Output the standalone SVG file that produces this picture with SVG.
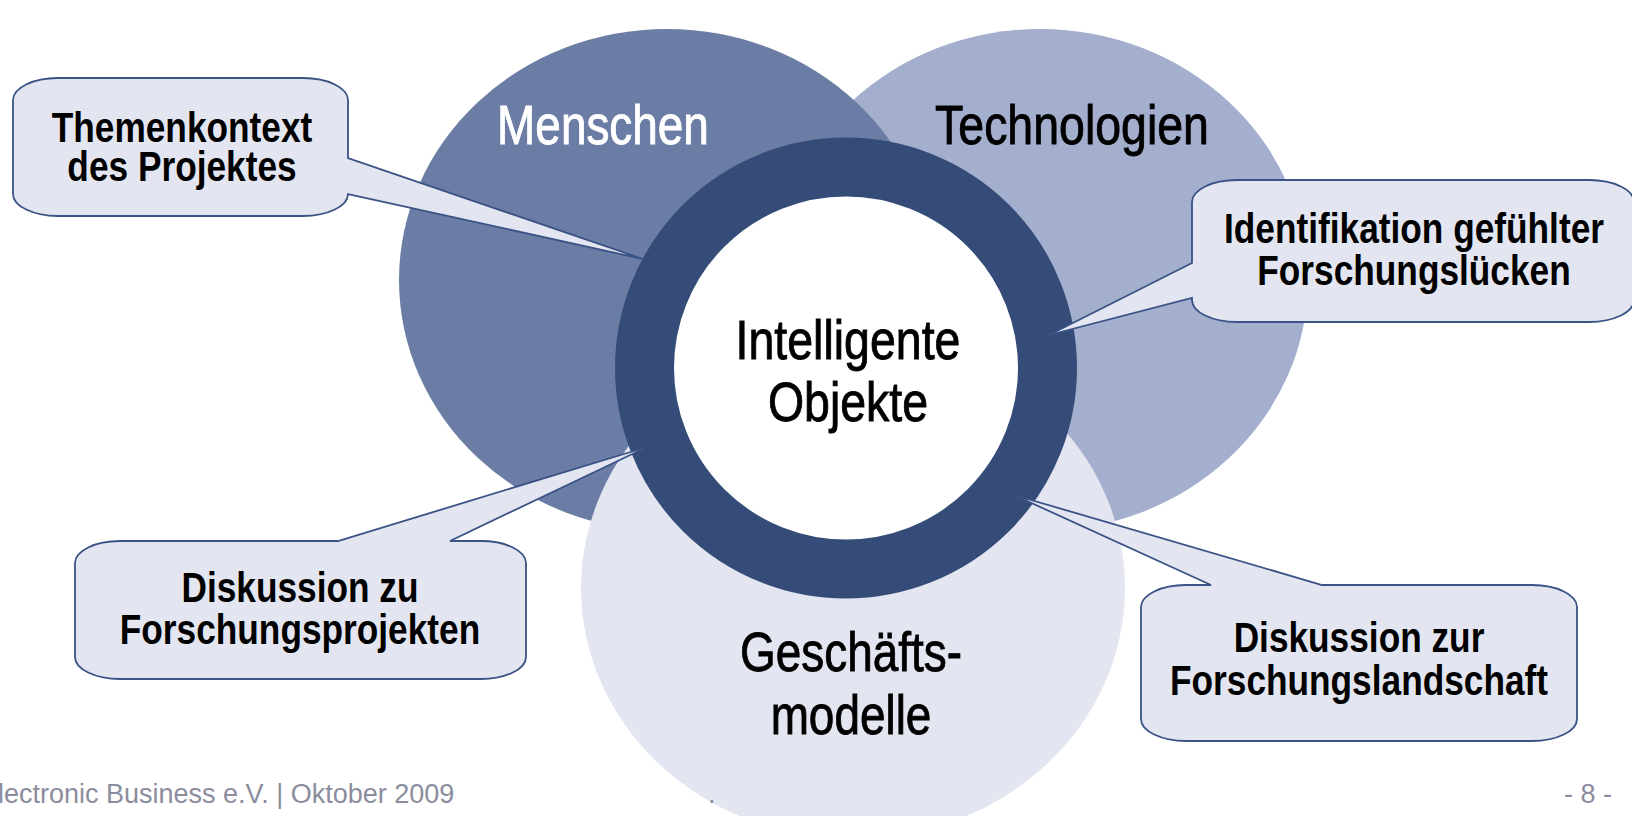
<svg xmlns="http://www.w3.org/2000/svg" width="1632" height="816" viewBox="0 0 1632 816">
<style>
.big{font-family:"Liberation Sans",Arial,sans-serif;font-size:56px;text-anchor:middle;stroke-width:0.9}
.co{font-family:"Liberation Sans",Arial,sans-serif;font-size:43px;font-weight:bold;text-anchor:middle;fill:#000}
.callout{fill:#E3E6F0;stroke:#3A5285;stroke-width:1.8;stroke-linejoin:miter}
.foot{font-family:"Liberation Sans",Arial,sans-serif;font-size:27px;fill:#8B8D9E}
</style>
<rect width="1632" height="816" fill="#fff"/>
<g id="technologien">
<ellipse cx="1040" cy="280" rx="268" ry="251" fill="#A3AFCD"/>
<text class="big" transform="translate(1072,144) scale(0.83,1)" fill="#000" stroke="#000">Technologien</text>
</g>
<g id="menschen">
<ellipse cx="667" cy="280" rx="268" ry="251" fill="#6B7DA5"/>
<text class="big" transform="translate(603,144) scale(0.82,1)" fill="#fff" stroke="#fff">Menschen</text>
</g>
<g id="geschaeftsmodelle">
<ellipse cx="853" cy="588" rx="272" ry="251" fill="#E3E6F1"/>
<text class="big" transform="translate(851,671) scale(0.82,1)" fill="#000" stroke="#000">Geschäfts-</text>
<text class="big" transform="translate(851,734) scale(0.82,1)" fill="#000" stroke="#000">modelle</text>
</g>
<g id="intelligente-objekte">
<ellipse cx="846" cy="368" rx="201.5" ry="201" fill="#fff" stroke="#354C78" stroke-width="59"/>
<text class="big" transform="translate(848,359) scale(0.83,1)" fill="#000" stroke="#000">Intelligente</text>
<text class="big" transform="translate(848,421) scale(0.83,1)" fill="#000" stroke="#000">Objekte</text>
</g>
<g id="connectors"></g>
<g id="callout-themenkontext">
<path class="callout" d="M 58,78 H 303 A 45 22 0 0 1 348,100 V 158 L 643,259 L 348,194 A 45 22 0 0 1 303,216 H 58 A 45 22 0 0 1 13,194 V 100 A 45 22 0 0 1 58,78 Z"/>
<text class="co" transform="translate(182,142) scale(0.82,1)">Themenkontext</text>
<text class="co" transform="translate(182,181) scale(0.82,1)">des Projektes</text>
</g>
<g id="callout-identifikation">
<path class="callout" d="M 1237,180 H 1589 A 45 22 0 0 1 1634,202 V 300 A 45 22 0 0 1 1589,322 H 1237 A 45 22 0 0 1 1192,300 V 298 L 1049,335 L 1192,263 V 202 A 45 22 0 0 1 1237,180 Z"/>
<text class="co" transform="translate(1414,243) scale(0.82,1)">Identifikation gefühlter</text>
<text class="co" transform="translate(1414,285) scale(0.82,1)">Forschungslücken</text>
</g>
<g id="callout-projekte">
<path class="callout" d="M 120,541 H 338 L 647,447 L 450,541 H 481 A 45 22 0 0 1 526,563 V 657 A 45 22 0 0 1 481,679 H 120 A 45 22 0 0 1 75,657 V 563 A 45 22 0 0 1 120,541 Z"/>
<text class="co" transform="translate(300,602) scale(0.82,1)">Diskussion zu</text>
<text class="co" transform="translate(300,644) scale(0.82,1)">Forschungsprojekten</text>
</g>
<g id="callout-landschaft">
<path class="callout" d="M 1186,585 H 1211 L 1014,495 L 1322,585 H 1532 A 45 22 0 0 1 1577,607 V 719 A 45 22 0 0 1 1532,741 H 1186 A 45 22 0 0 1 1141,719 V 607 A 45 22 0 0 1 1186,585 Z"/>
<text class="co" transform="translate(1359,652) scale(0.82,1)">Diskussion zur</text>
<text class="co" transform="translate(1359,695) scale(0.82,1)">Forschungslandschaft</text>
</g>
<g id="footer">
<text class="foot" x="-2" y="803">lectronic Business e.V. | Oktober 2009</text>
<text class="foot" x="708" y="803">.</text>
<text class="foot" x="1564" y="803">- 8 -</text>
</g>
</svg>
